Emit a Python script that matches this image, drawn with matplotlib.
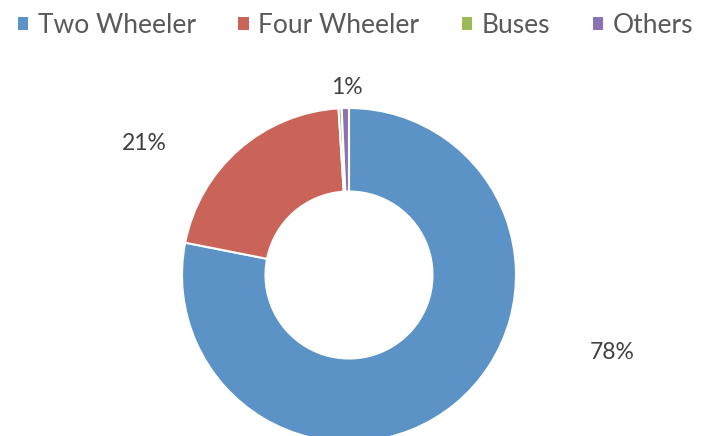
import matplotlib
matplotlib.use("Agg")
from matplotlib import pyplot as plt
from matplotlib.patches import Patch

categories = ["Two Wheeler", "Four Wheeler", "Buses", "Others"]
shares = [78.1, 20.9, 0.3, 0.7]
labels = ["78%", "21%", "", "1%"]
colors = ["#5b93c7", "#cb6458", "#9bbb59", "#8b73b3"]

W, H = 709, 436
fig = plt.figure(figsize=(W / 100, H / 100), dpi=100)
ax = fig.add_axes([0, 0, 1, 1])

cx, cy, r = 349, H - 275, 167
wedges, _ = ax.pie(
    shares,
    colors=colors,
    startangle=90,
    counterclock=False,
    center=(cx, cy),
    radius=r,
    frame=True,
    wedgeprops=dict(width=r * 0.5, edgecolor="white", linewidth=1.5),
)
ax.set_xlim(0, W)
ax.set_ylim(0, H)
ax.set_aspect("equal")
ax.axis("off")

txt = dict(fontsize=16.5, color="#404040", family="Lato", ha="center", va="center")
label_pos = [(612, 352), (144, 143), None, (347, 88)]
for lab, pos in zip(labels, label_pos):
    if lab and pos:
        ax.text(pos[0], H - pos[1], lab, **txt)

handles = [Patch(facecolor=c, edgecolor="none") for c in colors]
fig.legend(
    handles,
    categories,
    loc="upper left",
    bbox_to_anchor=(0.012, 0.992),
    ncol=4,
    frameon=False,
    prop=dict(family="Lato", size=19),
    labelcolor="#595959",
    handlelength=0.4,
    handleheight=0.4,
    handletextpad=0.35,
    columnspacing=1.62,
    borderaxespad=0.0,
    borderpad=0.35,
)

fig.savefig("out.png", dpi=100)
